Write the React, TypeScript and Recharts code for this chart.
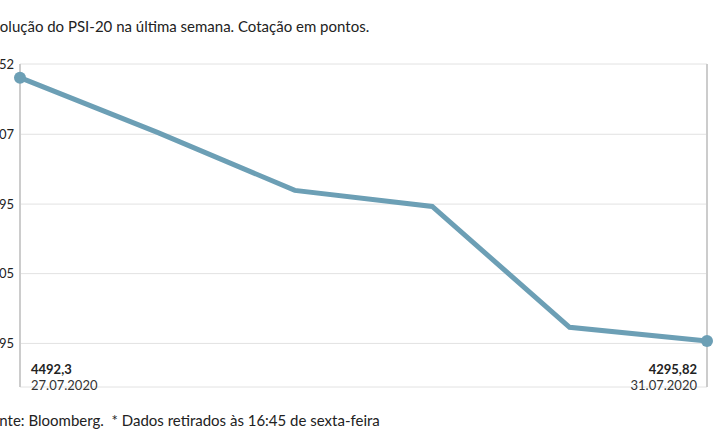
import React from 'react';
import { LineChart, Line, XAxis, YAxis, CartesianGrid } from 'recharts';

const dates = ['27.07.2020', '28.07.2020', '29.07.2020', '30.07.2020', '31.07.2020 (manhã)', '31.07.2020'];
const points = [4492.3, 4451.5, 4408.2, 4396.2, 4306.0, 4295.82];
const yTicks = [4293.95, 4346.05, 4397.95, 4450.07, 4502.52];
const Y_MIN = 4261.43;
const Y_MAX = 4502.52;

const title = 'Evolução do PSI-20 na última semana. Cotação em pontos.';
const source = 'Fonte: Bloomberg.  * Dados retirados às 16:45 de sexta-feira';

const data = dates.map((d, i) => ({ date: d, value: points[i] }));

const FONT = 'Lato, "Open Sans", sans-serif';
const COLOR = '#6c9fb5';

const fmt = (v: number) => String(v).replace('.', ',');

const EndTick = (props: any) => {
    const { x, y, index } = props;
    const last = data.length - 1;
    if (index !== 0 && index !== last) return <g />;
    const anchor = index === 0 ? 'start' : 'end';
    const tx = index === 0 ? x + 11 : x - 10;
    const label = index === 0 ? dates[0] : dates[last];
    return (
        <g>
            <text x={tx} y={y - 19} textAnchor={anchor} fontFamily={FONT} fontSize={13} fontWeight={700} fill="#222">
                {fmt(data[index].value)}
            </text>
            <text x={tx} y={y - 3} textAnchor={anchor} fontFamily={FONT} fontSize={13} fill="#333">
                {label}
            </text>
        </g>
    );
};

const EndDot = (props: any) => {
    const { cx, cy, index } = props;
    if (index !== 0 && index !== data.length - 1) return <g key={`d-${index}`} />;
    return <circle key={`d-${index}`} cx={cx} cy={cy} r={6} fill={COLOR} />;
};

const App = () => {
    return (
        <div style={{ position: 'absolute', left: 0, top: 0, width: 715, height: 445, overflow: 'hidden', background: '#fff', fontFamily: FONT }}>
            <div style={{ position: 'absolute', left: -16, top: 17, fontSize: 15, color: '#222', whiteSpace: 'nowrap' }}>{title}</div>
            <div style={{ position: 'absolute', left: -17, top: 411, fontSize: 15, color: '#222', whiteSpace: 'pre' }}>{source}</div>
            <div style={{ position: 'absolute', left: -40, top: 0 }}>
                <LineChart width={755} height={445} data={data} margin={{ top: 64, right: 7, bottom: 57, left: 0 }}>
                    <CartesianGrid vertical={false} stroke="#e2e2e2" strokeWidth={1} />
                    <XAxis
                        dataKey="date"
                        axisLine={false}
                        tickLine={false}
                        height={1}
                        interval={0}
                        tick={<EndTick />}
                        tickMargin={0}
                    />
                    <YAxis
                        yAxisId={0}
                        domain={[Y_MIN, Y_MAX]}
                        ticks={yTicks}
                        tickFormatter={(v: number) => v.toFixed(2)}
                        width={60}
                        tickSize={0}
                        tickMargin={6}
                        axisLine={{ stroke: '#cccccc', strokeWidth: 2 }}
                        tickLine={false}
                        tick={{ fontFamily: FONT, fontSize: 13, fill: '#222' }}
                        allowDataOverflow
                    />
                    <YAxis
                        yAxisId="right"
                        orientation="right"
                        width={1}
                        tick={false}
                        tickLine={false}
                        axisLine={{ stroke: '#cccccc', strokeWidth: 2 }}
                    />
                    <Line
                        yAxisId={0}
                        type="linear"
                        dataKey="value"
                        stroke={COLOR}
                        strokeWidth={5}
                        dot={EndDot}
                        activeDot={false}
                        isAnimationActive={false}
                    />
                </LineChart>
            </div>
        </div>
    );
};

export default App;
